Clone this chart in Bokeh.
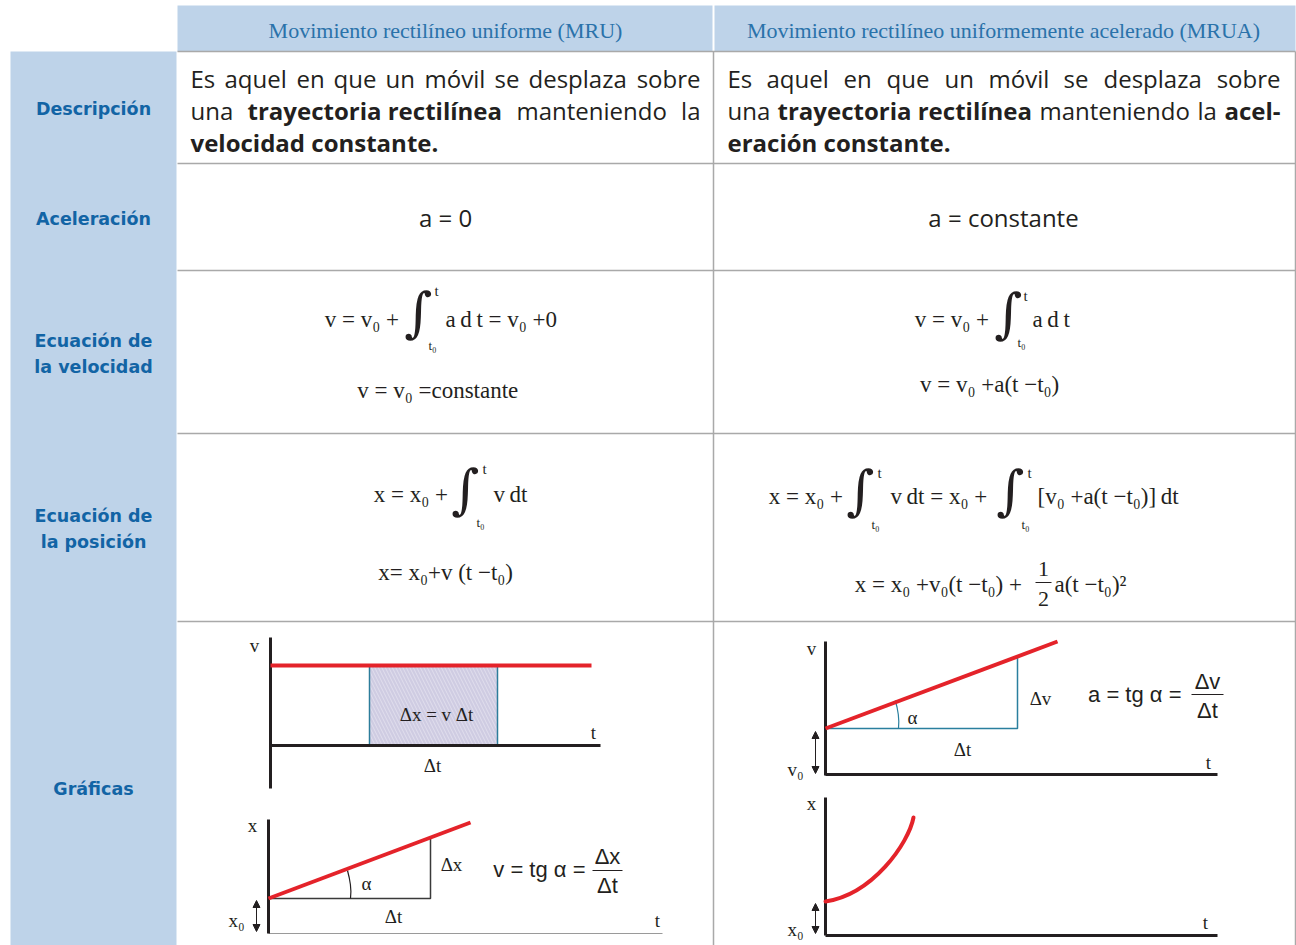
from bokeh.plotting import figure
from bokeh.models import Range1d, Arrow, NormalHead
from bokeh.core.properties import value
from bokeh.embed import file_html
from bokeh.resources import INLINE

# ---------------- table content ----------------
col_headers = ["Movimiento rectilíneo uniforme (MRU)",
               "Movimiento rectilíneo uniformemente acelerado (MRUA)"]
col_centers = [445, 1003]
row_labels = ["Descripción", "Aceleración", "Ecuación de", "la velocidad",
              "Ecuación de", "la posición", "Gráficas"]
row_label_y = [108, 218, 340, 366, 515, 541, 788]
row_edges = [51, 163, 270, 433, 621]
acc_texts = ["a = 0", "a = constante"]

# description word groups (justified lines)
desc_words = ["Es", "aquel", "en", "que", "un", "móvil", "se", "desplaza", "sobre",
              "una", "trayectoria rectilínea", "manteniendo", "la",
              "velocidad constante.",
              "Es", "aquel", "en", "que", "un", "móvil", "se", "desplaza", "sobre",
              "una", "trayectoria rectilínea", "manteniendo", "la", "acel-",
              "eración constante."]
desc_x = [190, 224, 296, 333, 385, 424, 494, 528, 700,
          190, 247, 516, 700,
          190,
          727, 766, 843, 886, 944, 988, 1063, 1103, 1280,
          727, 777, 1039, 1197, 1280,
          727]
desc_y = [78] * 9 + [110] * 4 + [142] + [78] * 9 + [110] * 5 + [142]
desc_bold = [0] * 9 + [0, 1, 0, 0] + [1] + [0] * 9 + [0, 1, 0, 0, 1] + [1]
desc_align = (["left"] * 8 + ["right"] + ["left"] * 3 + ["right"] + ["left"]
              + ["left"] * 8 + ["right"] + ["left"] * 4 + ["right"] + ["left"])

# equations: text, x, y, align
TS = "\u2009"
eq_texts = ["v  = v₀  +", "a" + TS + "d" + TS + "t  = v₀  +0", "v  = v₀  =constante",
            "v  = v₀  +", "a" + TS + "d" + TS + "t", "v = v₀ +a(t  −t₀)",
            "x  = x₀  +", "v" + TS + "dt", "x=  x₀+v (t −t₀)",
            "x  = x₀  +", "v" + TS + "dt = x₀  +", "[v₀ +a(t  −t₀)]" + TS + "dt",
            "x  = x₀ +v₀(t  −t₀) +", "a(t  −t₀)²"]
eq_x = [410, 445, 443, 1000, 1032, 992, 459, 493, 448,
        854, 890, 1037, 1033, 1054]
eq_y = [319, 319, 390, 319, 319, 384, 494, 494, 572,
        496, 496, 496, 584, 584]
eq_align = ["right", "left", "center", "right", "left", "center",
            "right", "left", "center", "right", "left", "left", "right", "left"]

int_x = [418, 1008, 465, 860, 1010]
int_y = [312, 313, 489, 490, 490]
lim_up_x = [434, 1023, 482, 877, 1027]
lim_up_y = [290, 295, 468, 472, 472]
lim_lo_x = [428, 1017, 476, 871, 1021]
lim_lo_y = [345, 342, 522, 524, 524]

frac_num = ["1", "Δx", "Δv"]
frac_den = ["2", "Δt", "Δt"]
frac_cx = [1043, 607, 1207]
frac_line_half = [8, 15, 16]
frac_ly = [582, 870, 694]
frac_num_y = [568, 856, 681]
frac_den_y = [598, 885, 710]

# ---------------- graphs ----------------
red = "#e4232a"
# MRU v-t
mru_v_axis_t = [270, 270]; mru_v_axis_v = [637, 788]
mru_t_axis_t = [270, 600]; mru_t_axis_v = [745, 745]
mru_v_level_t = [270, 591]; mru_v_level_v = [665, 665]
mru_dt = [369, 497]
# MRU x-t
mru_x_axis_t = [268, 268]; mru_x_axis_x = [819, 933]
mru_xt_axis_t = [268, 662]; mru_xt_axis_x = [933, 933]
mru_x_line_t = [268, 470]; mru_x_line_x = [898, 822]
mru_tri_t = [268, 430, 430]; mru_tri_x = [898, 898, 837]
# MRUA v-t
mrua_v_axis_t = [825, 825]; mrua_v_axis_v = [641, 775]
mrua_t_axis_t = [825, 1217]; mrua_t_axis_v = [774, 774]
mrua_v_line_t = [825, 1057]; mrua_v_line_v = [728, 641]
mrua_tri_t = [825, 1017, 1017]; mrua_tri_v = [728, 728, 657]
# MRUA x-t
mrua_x_axis_t = [825, 825]; mrua_x_axis_x = [797, 935]
mrua_xt_axis_t = [825, 1217]; mrua_xt_axis_x = [935, 935]
# curve: start, end, two control points
mrua_curve_t = [825, 913]; mrua_curve_x = [901, 817]
mrua_curve_ct = [872, 908]; mrua_curve_cx = [894, 843]

# angle marks (sampled arc points)
arc1_t = [350, 350.4, 349.9, 348.7, 347.0]
arc1_x = [898, 891, 884, 877, 870]
arc2_t = [898, 898.3, 897.8, 896.6, 894.8]
arc2_v = [728, 721, 714, 707, 700]

graph_labels = ["v", "Δx = v Δt", "t", "Δt",
                "x", "α", "Δx", "Δt", "x₀", "t",
                "v", "α", "Δv", "Δt", "t", "v₀",
                "x", "x₀", "t"]
graph_lx = [254, 436, 593, 432,
            252, 366, 451, 393, 236, 657,
            811, 912, 1040, 962, 1208, 795,
            811, 795, 1205]
graph_ly = [645, 714, 732, 765,
            825, 883, 864, 916, 920, 920,
            648, 717, 698, 749, 762, 769,
            803, 929, 922]

sans_eq = ["v = tg α =", "a = tg α ="]
sans_eq_x = [585, 1181]
sans_eq_y = [869, 694]

# ---------------- figure ----------------
p = figure(width=1296, height=945, x_range=Range1d(0, 1296), y_range=Range1d(945, 0),
           output_backend="svg", toolbar_location=None, min_border=0,
           x_axis_location=None, y_axis_location=None)
p.grid.visible = False
p.outline_line_color = None
p.background_fill_color = "white"

blue_fill = "#bed3e9"
p.quad(left=[177, 714], right=[712, 1295], top=[5, 5], bottom=[51, 51],
       fill_color=blue_fill, line_color=None)
p.quad(left=[10], right=[176], top=[51], bottom=[945], fill_color=blue_fill, line_color=None)

grid_c = "#a9a9a9"
p.segment(x0=[177] * len(row_edges), x1=[1295] * len(row_edges), y0=row_edges, y1=row_edges,
          line_color=grid_c, line_width=1.5)
p.segment(x0=[713, 1295], x1=[713, 1295], y0=[51, 51], y1=[945, 945],
          line_color=grid_c, line_width=1.5)


def T(xs, ys, texts, size, font, color="#231f20", align="left", style="normal", baseline="middle"):
    p.text(x=xs, y=ys, text=texts, text_font=value(font), text_font_size=f"{size}px",
           text_color=color, text_align=align, text_baseline=baseline, text_font_style=style)


# headers
T(col_centers, [30, 30], col_headers, 22, "Liberation Serif", "#2a72aa", "center")
# row labels
T([93] * len(row_labels), row_label_y, row_labels, 17.5, "DejaVu Sans", "#1264a5", "center", "bold")

# description
for w, x, y, b, a in zip(desc_words, desc_x, desc_y, desc_bold, desc_align):
    T([x], [y], [w], 24, "Open Sans", "#231f20", a, "bold" if b else "normal")

# acceleration
T(col_centers, [217, 217], acc_texts, 24, "Open Sans", "#231f20", "center")

# equations
EQF = "Liberation Serif"
for s, x, y, a in zip(eq_texts, eq_x, eq_y, eq_align):
    T([x], [y], [s], 23, EQF, "#231f20", a)
T(int_x, int_y, ["∫"] * len(int_x), 54, "DejaVu Serif", "#231f20", "center")
T(lim_up_x, lim_up_y, ["t"] * len(lim_up_x), 15, EQF, "#231f20", "left")
T(lim_lo_x, lim_lo_y, ["t₀"] * len(lim_lo_x), 13, EQF, "#231f20", "left")

# fractions
T(frac_cx[:1], frac_num_y[:1], frac_num[:1], 22, EQF, "#231f20", "center")
T(frac_cx[:1], frac_den_y[:1], frac_den[:1], 22, EQF, "#231f20", "center")
T(frac_cx[1:], frac_num_y[1:], frac_num[1:], 22, "Liberation Sans", "#231f20", "center")
T(frac_cx[1:], frac_den_y[1:], frac_den[1:], 22, "Liberation Sans", "#231f20", "center")
p.segment(x0=[c - h for c, h in zip(frac_cx, frac_line_half)],
          x1=[c + h for c, h in zip(frac_cx, frac_line_half)],
          y0=frac_ly, y1=frac_ly, line_color="#231f20", line_width=1)
T(sans_eq_x, sans_eq_y, sans_eq, 22, "Liberation Sans", "#231f20", "right")

# MRU v-t
p.quad(left=[mru_dt[0]], right=[mru_dt[1]], top=[mru_v_level_v[0]], bottom=[mru_t_axis_v[0]],
       fill_color="#cfcce2", line_color=None, hatch_pattern="\\", hatch_color="white",
       hatch_alpha=0.35, hatch_scale=7, hatch_weight=1)
p.segment(x0=mru_dt, x1=mru_dt, y0=[mru_v_level_v[0]] * 2, y1=[mru_t_axis_v[0]] * 2,
          line_color="#2c7d9b", line_width=1.5)
p.line(mru_v_axis_t, mru_v_axis_v, line_color="#231f20", line_width=3)
p.line(mru_t_axis_t, mru_t_axis_v, line_color="#231f20", line_width=3)
p.line(mru_v_level_t, mru_v_level_v, line_color=red, line_width=4)

# MRU x-t
p.line(mru_xt_axis_t, mru_xt_axis_x, line_color="#9a9a9a", line_width=1)
p.line(mru_x_axis_t, mru_x_axis_x, line_color="#231f20", line_width=3)
p.line(mru_tri_t, mru_tri_x, line_color="#3a3a3a", line_width=1.5)
p.line(arc1_t, arc1_x, line_color="#231f20", line_width=1.2)
p.line(mru_x_line_t, mru_x_line_x, line_color=red, line_width=4)

# MRUA v-t
p.line(mrua_tri_t, mrua_tri_v, line_color="#2a7f9e", line_width=1.5)
p.line(arc2_t, arc2_v, line_color="#2a7f9e", line_width=1.2)
p.line(mrua_v_axis_t, mrua_v_axis_v, line_color="#231f20", line_width=3)
p.line(mrua_t_axis_t, mrua_t_axis_v, line_color="#231f20", line_width=3)
p.line(mrua_v_line_t, mrua_v_line_v, line_color=red, line_width=4)

# MRUA x-t
p.line(mrua_x_axis_t, mrua_x_axis_x, line_color="#231f20", line_width=3)
p.line(mrua_xt_axis_t, mrua_xt_axis_x, line_color="#231f20", line_width=3)
p.bezier(x0=[mrua_curve_t[0]], y0=[mrua_curve_x[0]], x1=[mrua_curve_t[1]], y1=[mrua_curve_x[1]],
         cx0=[mrua_curve_ct[0]], cy0=[mrua_curve_cx[0]], cx1=[mrua_curve_ct[1]], cy1=[mrua_curve_cx[1]],
         line_color=red, line_width=4, line_cap="round")

# double arrows
arrow_x = [256, 815, 815]
arrow_y0 = [900, 731, 903]
arrow_y1 = [931, 773, 933]
for ax, a0, a1 in zip(arrow_x, arrow_y0, arrow_y1):
    p.add_layout(Arrow(start=NormalHead(size=7, fill_color="#231f20", line_color="#231f20"),
                       end=NormalHead(size=7, fill_color="#231f20", line_color="#231f20"),
                       x_start=ax, y_start=a0, x_end=ax, y_end=a1,
                       line_color="#231f20", line_width=1))

T(graph_lx, graph_ly, graph_labels, 19, "Liberation Serif", "#231f20", "center")

open("out.html", "w").write(file_html(p, INLINE))
